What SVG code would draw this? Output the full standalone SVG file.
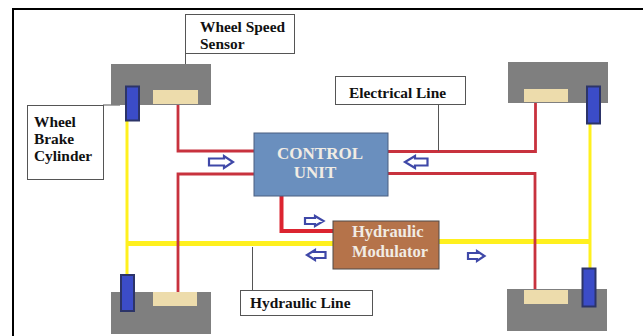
<svg xmlns="http://www.w3.org/2000/svg" width="643" height="336" viewBox="0 0 643 336">
<style>
.lbl{fill:#fff;stroke:#555;stroke-width:1}
.t{font-family:"Liberation Serif",serif;font-weight:bold;font-size:15.400px;fill:#111}
.w{font-family:"Liberation Serif",serif;font-weight:bold;fill:#f1ece4}
.g{fill:#7f7f7f}
.s{fill:#eddcac}
.c{fill:#3b4cc8;stroke:#2c3468;stroke-width:2}
.r{fill:none;stroke:#c8323e;stroke-width:2.800}
.y{fill:none;stroke:#fff01e}
.lead{fill:none;stroke:#555;stroke-width:1}
.a{fill:#fff;stroke:#3f48a8;stroke-width:2.200}
</style>
<rect width="643" height="336" fill="#fff"/>
<path d="M13 336V9H643" fill="none" stroke="#000" stroke-width="2"/>
<g id="connectors">
<path class="y" stroke-width="3" d="M127 121V274"/>
<path class="y" stroke-width="3" d="M590 124V268"/>
<path class="y" stroke-width="5" d="M127 243.500H333"/>
<path class="y" stroke-width="5" d="M439 241.500H590"/>
<path class="r" d="M178 105V151H254"/>
<path class="r" d="M178 294V174H254"/>
<path class="r" d="M535.500 102V151.500H388"/>
<path class="r" d="M535 290V173.500H388"/>
<path fill="none" stroke="#dc2430" stroke-width="4" d="M281.500 196V231H333"/>
<path class="lead" d="M185.500 53V86"/>
<path class="lead" d="M103 105H120"/>
<path class="lead" d="M438.500 104V151"/>
<path class="lead" d="M252.500 247V290"/>
<path class="a" d="M209 158.500H224V156L233 162L224 168V165.500H209Z"/>
<path class="a" d="M427.500 158.500H415V156L405 162L415 168V165.500H427.500Z"/>
<path class="a" d="M305 218H315V216L323.500 221L315 226V224H305Z"/>
<path class="a" d="M325.500 252H315V250L307 255L315 260V258H325.500Z"/>
<path class="a" d="M468 253H477V251L484.500 256L477 261V259H468Z"/>
</g>
<g id="wheel-top-left"><rect class="g" x="111" y="64" width="100" height="41"/><rect class="s" x="153" y="90" width="45" height="14"/><rect class="c" x="126" y="86.500" width="13" height="34"/></g>
<g id="wheel-top-right"><rect class="g" x="508" y="62" width="100" height="41"/><rect class="s" x="524" y="89" width="44" height="13"/><rect class="c" x="587" y="86.500" width="13" height="37"/></g>
<g id="wheel-bottom-left"><rect class="g" x="111" y="292" width="100" height="42"/><rect class="s" x="153" y="292" width="44" height="14"/><rect class="c" x="121" y="275" width="13" height="36"/></g>
<g id="wheel-bottom-right"><rect class="g" x="507" y="289" width="100" height="42"/><rect class="s" x="524" y="290" width="44" height="14"/><rect class="c" x="582.500" y="268.500" width="13" height="38"/></g>
<g id="control-unit"><rect x="254" y="133" width="134" height="63" fill="#6a8fbe" stroke="#4a5f80" stroke-width="1"/>
<text class="w" font-size="17" text-anchor="middle" x="320" y="159">CONTROL</text><text class="w" font-size="17" text-anchor="middle" x="315" y="178">UNIT</text></g>
<g id="hydraulic-modulator"><rect x="333" y="221" width="106" height="48" fill="#b5734a" stroke="#4e4a48" stroke-width="1"/>
<text class="w" font-size="16.500" x="352" y="237">Hydraulic</text><text class="w" font-size="16.500" x="352" y="257">Modulator</text></g>
<g id="label-wheel-speed"><rect class="lbl" x="185.500" y="14.500" width="109" height="39"/><text class="t" x="200" y="32">Wheel Speed</text><text class="t" x="200" y="49">Sensor</text></g>
<g id="label-brake"><rect class="lbl" x="27.500" y="105.500" width="76" height="74"/><text class="t" x="34" y="127">Wheel</text><text class="t" x="34" y="144">Brake</text><text class="t" x="34" y="161">Cylinder</text></g>
<g id="label-electrical"><rect class="lbl" x="335.500" y="76.500" width="130" height="28"/><text class="t" x="349" y="98">Electrical Line</text></g>
<g id="label-hydraulic"><rect class="lbl" x="240.500" y="290.500" width="132" height="25"/><text class="t" x="250" y="308">Hydraulic Line</text></g>
</svg>
